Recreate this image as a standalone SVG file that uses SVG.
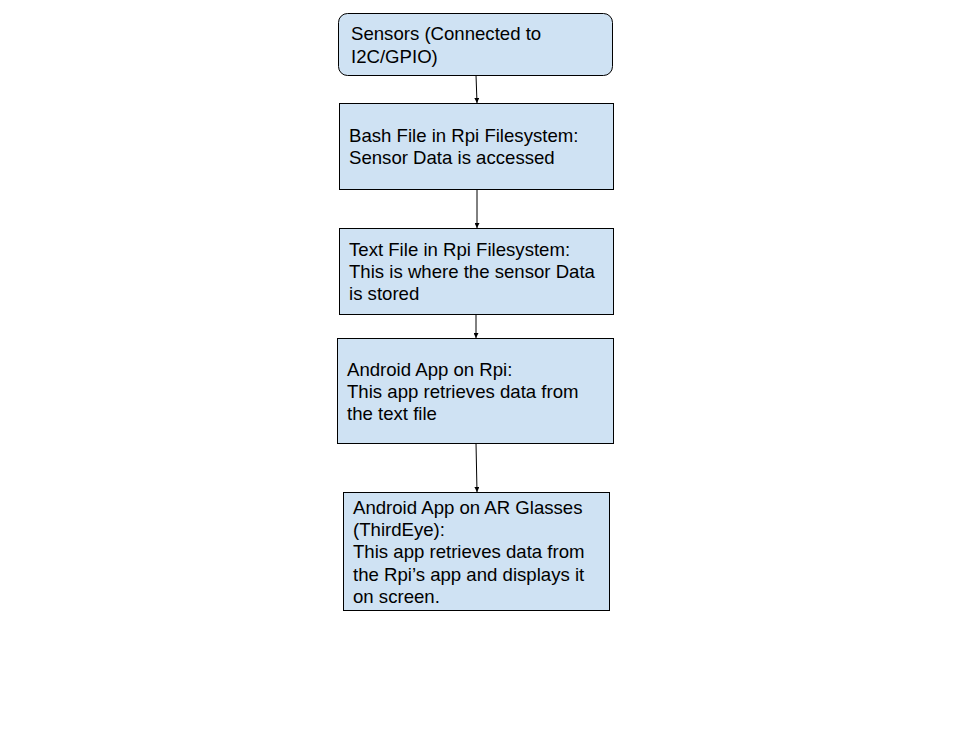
<svg xmlns="http://www.w3.org/2000/svg" width="966" height="730" viewBox="0 0 966 730">
<defs>
<style>
.box{fill:#cfe2f3;stroke:#000;stroke-width:1}
.t{font-family:"Liberation Sans",Arial,sans-serif;font-size:18.6px;fill:#000}
.c{stroke:#000;stroke-width:1;fill:none;marker-end:url(#ah)}
</style>
<marker id="ah" viewBox="0 0 10 10" refX="10" refY="5" markerWidth="5" markerHeight="5" orient="auto" markerUnits="userSpaceOnUse">
<path d="M0,0 L10,5 L0,10 z" fill="#000"/>
</marker>
</defs>
<rect width="966" height="730" fill="#fff"/>
<g id="connectors">
<line class="c" x1="476" y1="75" x2="477" y2="103"/>
<line class="c" x1="477" y1="189" x2="477" y2="228"/>
<line class="c" x1="476" y1="314" x2="476" y2="338"/>
<line class="c" x1="476" y1="443" x2="477" y2="492"/>
</g>
<g id="sensors">
<rect class="box" x="338.5" y="13.5" width="274" height="62" rx="9"/>
<text class="t"><tspan x="351" y="40">Sensors (Connected to</tspan><tspan x="351" y="63">I2C/GPIO)</tspan></text>
</g>
<g id="bash">
<rect class="box" x="339.5" y="103.5" width="274" height="86"/>
<text class="t"><tspan x="349" y="142">Bash File in Rpi Filesystem:</tspan><tspan x="349" y="164">Sensor Data is accessed</tspan></text>
</g>
<g id="textfile">
<rect class="box" x="339.5" y="228.5" width="274" height="86"/>
<text class="t"><tspan x="349" y="256">Text File in Rpi Filesystem:</tspan><tspan x="349" y="278">This is where the sensor Data</tspan><tspan x="349" y="300">is stored</tspan></text>
</g>
<g id="rpiapp">
<rect class="box" x="337.5" y="338.5" width="276" height="105"/>
<text class="t"><tspan x="347" y="376">Android App on Rpi:</tspan><tspan x="347" y="398">This app retrieves data from</tspan><tspan x="347" y="420">the text file</tspan></text>
</g>
<g id="arapp">
<rect class="box" x="343.5" y="492.5" width="266" height="118"/>
<text class="t"><tspan x="353" y="514">Android App on AR Glasses</tspan><tspan x="353" y="536">(ThirdEye):</tspan><tspan x="353" y="558">This app retrieves data from</tspan><tspan x="353" y="581">the Rpi’s app and displays it</tspan><tspan x="353" y="603">on screen.</tspan></text>
</g>
</svg>
